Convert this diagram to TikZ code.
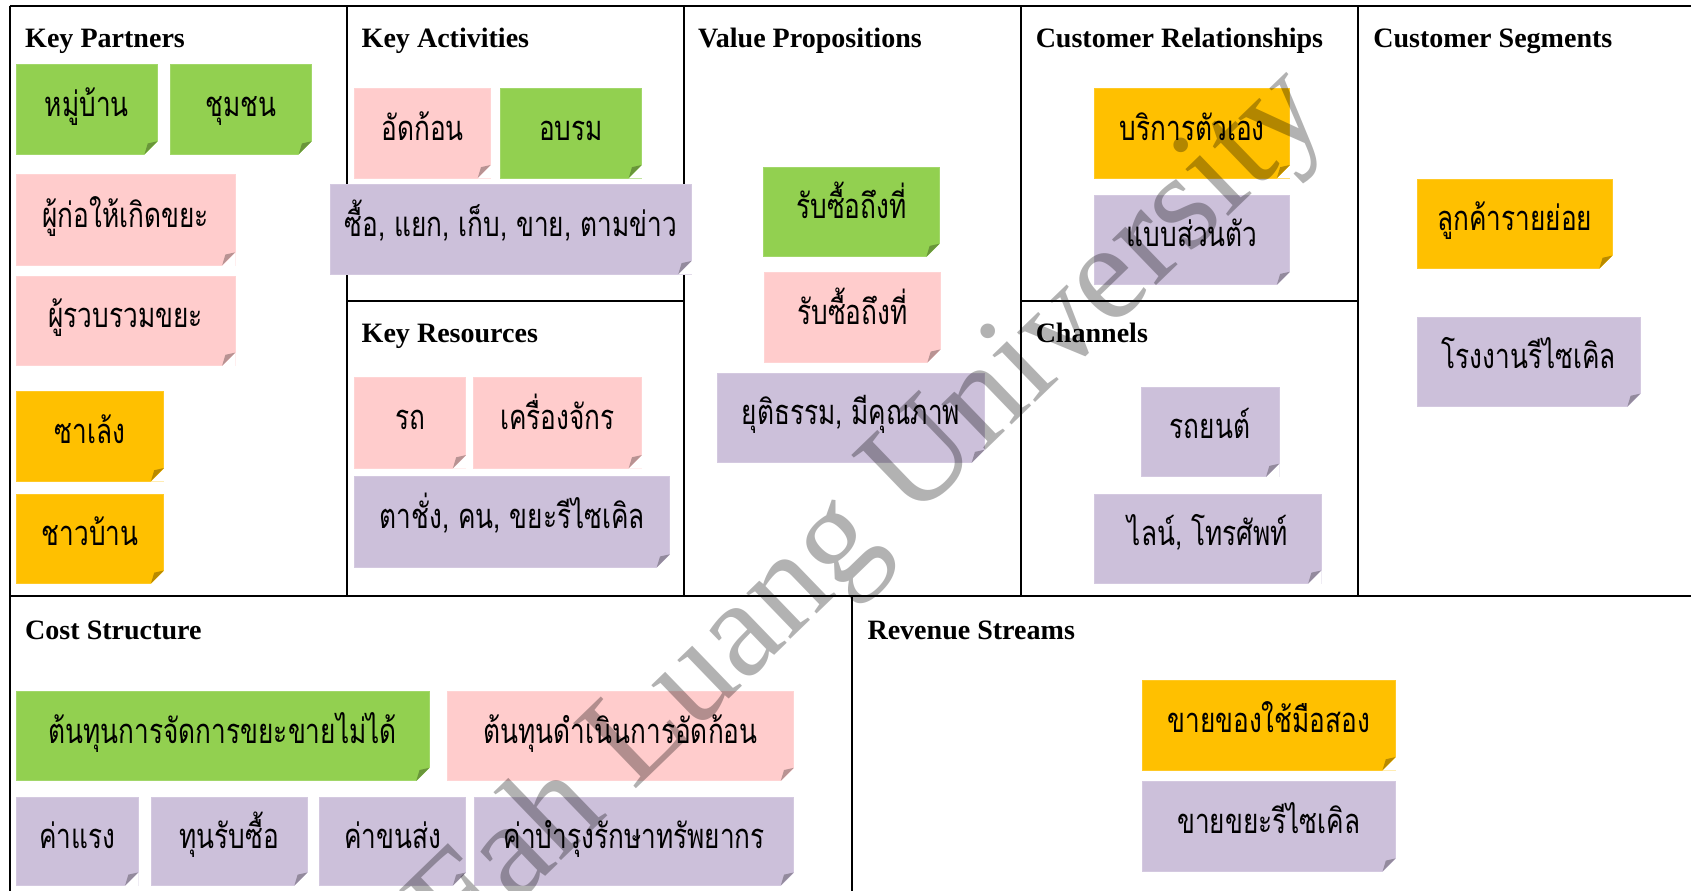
\documentclass[tikz,border=0pt]{standalone}
\usepackage{fontspec}
\setmainfont{Liberation Serif}
\newfontfamily\thaifont[Script=Thai,FakeStretch=0.76]{Loma}
\usetikzlibrary{calc}
\definecolor{kgreen}{RGB}{146,208,80}
\definecolor{kpink}{RGB}{255,204,204}
\definecolor{korange}{RGB}{255,192,0}
\definecolor{kpurple}{RGB}{204,192,218}
\tikzset{
  wall/.style={line width=1pt},
  head/.style={anchor=base west, inner sep=0pt, font=\fontsize{13pt}{15pt}\selectfont\bfseries},
  note/.style={fill=#1, draw=#1!85!white, line width=0.4pt, inner sep=0pt, outer sep=0pt,
    minimum height=41.5pt, text height=8pt, text depth=1.5pt,
    font=\thaifont\fontsize{16pt}{19pt}\selectfont},
  wd/.style={minimum width=#1*0.5pt},
  ht/.style={minimum height=#1*0.5pt},
}
\begin{document}
\begin{tikzpicture}[x=0.5pt,y=0.5pt,yscale=-1,xscale=1]
\path[use as bounding box] (0,0) rectangle (1568,826);
\clip (0,0) rectangle (1568,826);

%Frame
\draw[wall] (9,5.5) -- (1600,5.5);
\draw[wall] (9,5.5) -- (9,860);
\draw[wall] (9,552.5) -- (1600,552.5);
\foreach \xx in {322,634,946.5,1259}
  \draw[wall] (\xx,5.5) -- (\xx,552.5);
\draw[wall] (322,279) -- (634,279);
\draw[wall] (946.5,279) -- (1259,279);
\draw[wall] (790,552.5) -- (790,860);

% Headings
\node[head] (hkp) at (23,44) {Key Partners};
\node[head] (hka) at (335,44) {Key Activities};
\node[head] (hvp) at (647,44) {Value Propositions};
\node[head] (hcr) at (960,44) {Customer Relationships};
\node[head] (hcs) at (1273,44) {Customer Segments};
\node[head] (hkr) at (335,318) {Key Resources};
\node[head] (hch) at (960,318) {Channels};
\node[head] (hcost) at (23,593) {Cost Structure};
\node[head] (hrev) at (804,593) {Revenue Streams};

% Key Partners
\node[note=kgreen, wd=131] (village) at (80.5,101.5) {หมู่บ้าน};
\node[note=kgreen, wd=131] (community) at (223.5,101.5) {ชุมชน};
\node[note=kpink, wd=203, ht=84] (wastegen) at (116.5,204) {ผู้ก่อให้เกิดขยะ};
\node[note=kpink, wd=203] (collector) at (116.5,297.5) {ผู้รวบรวมขยะ};
\node[note=korange, wd=137] (salaeng) at (83.5,404.5) {ซาเล้ง};
\node[note=korange, wd=137] (villagers) at (83.5,499.5) {ชาวบ้าน};

% Key Activities
\node[note=kpink, wd=126] (bale) at (392,123.5) {อัดก้อน};
\node[note=kgreen, wd=131] (train) at (529.5,123.5) {อบรม};
\node[note=kpurple, wd=335] (buysell) at (473.5,212.5) {ซื้อ, แยก, เก็บ, ขาย, ตามข่าว};

% Key Resources
\node[note=kpink, wd=103, ht=84] (car) at (380.5,392) {รถ};
\node[note=kpink, wd=156, ht=84] (machine) at (517,392) {เครื่องจักร};
\node[note=kpurple, wd=292, ht=84] (scales) at (475,484) {ตาชั่ง, คน, ขยะรีไซเคิล};

% Value Propositions
\node[note=kgreen, wd=163] (pickup) at (789.5,196.5) {รับซื้อถึงที่};
\node[note=kpink, wd=163] (pickupb) at (790.5,294.5) {รับซื้อถึงที่};
\node[note=kpurple, wd=248] (fair) at (789,387.5) {ยุติธรรม, มีคุณภาพ};

% Customer Relationships
\node[note=korange, wd=181] (selfserv) at (1105.5,123.5) {บริการตัวเอง};
\node[note=kpurple, wd=181] (personal) at (1105.5,222.5) {แบบส่วนตัว};

% Channels
\node[note=kpurple, wd=128] (vehicle) at (1122,400.5) {รถยนต์};
\node[note=kpurple, wd=210] (linephone) at (1120,499.5) {ไลน์, โทรศัพท์};

% Customer Segments
\node[note=korange, wd=181] (retail) at (1404.5,207.5) {ลูกค้ารายย่อย};
\node[note=kpurple, wd=207] (factory) at (1417.5,335.5) {โรงงานรีไซเคิล};

% Cost Structure
\node[note=kgreen, wd=383] (costwaste) at (206.5,682.5) {ต้นทุนการจัดการขยะขายไม่ได้};
\node[note=kpink, wd=321] (costbale) at (575.5,682.5) {ต้นทุนดำเนินการอัดก้อน};
\node[note=kpurple, wd=113, ht=82] (labor) at (71.5,780) {ค่าแรง};
\node[note=kpurple, wd=145, ht=82] (buycap) at (212.5,780) {ทุนรับซื้อ};
\node[note=kpurple, wd=136, ht=82] (transport) at (364,780) {ค่าขนส่ง};
\node[note=kpurple, wd=296, ht=82] (upkeep) at (588,780) {ค่าบำรุงรักษาทรัพยากร};

% Revenue Streams
\node[note=korange, wd=235] (secondhand) at (1176.5,672.5) {ขายของใช้มือสอง};
\node[note=kpurple, wd=235] (recycle) at (1176.5,766.5) {ขายขยะรีไซเคิล};

% folded corners
\foreach \n/\c in {village/kgreen, community/kgreen, wastegen/kpink, collector/kpink,
    salaeng/korange, villagers/korange, bale/kpink, train/kgreen, buysell/kpurple,
    car/kpink, machine/kpink, scales/kpurple, pickup/kgreen, pickupb/kpink, fair/kpurple,
    selfserv/korange, personal/kpurple, vehicle/kpurple, linephone/kpurple,
    retail/korange, factory/kpurple, costwaste/kgreen, costbale/kpink, labor/kpurple,
    buycap/kpurple, transport/kpurple, upkeep/kpurple, secondhand/korange, recycle/kpurple}{
  \fill[white] ($(\n.south east)+(-12,0.5)$) -- ($(\n.south east)+(0.5,0.5)$) -- ($(\n.south east)+(0.5,-12)$) -- cycle;
  \fill[\c!72!black] ($(\n.south east)+(-12,0)$) -- ($(\n.south east)+(0,-12)$) -- ($(\n.south east)+(-9,-10)$) -- cycle;
}

% Watermark
\node[text=black, opacity=0.3, rotate=44, inner sep=0pt,
  font=\fontsize{64pt}{64pt}\selectfont] (wm) at (716,567) {Mae Fah Luang University};

\end{tikzpicture}
\end{document}
